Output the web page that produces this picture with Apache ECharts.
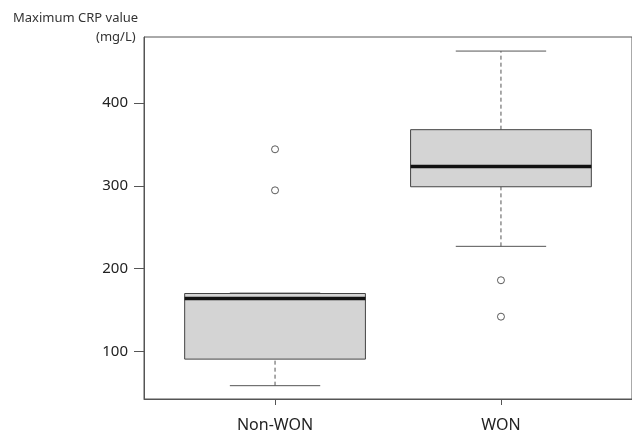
<!DOCTYPE html>
<html>
<head>
<meta charset="utf-8">
<script src="https://cdn.jsdelivr.net/npm/echarts@6/dist/echarts.min.js"></script>
<style>html,body{margin:0;padding:0;background:#fff;}#c{width:632px;height:433px;}</style>
</head>
<body>
<div id="c"></div>
<script>
var categories = ['Non-WON', 'WON'];
var positions = [1, 2];
var whiskerLow = [58.6, 227];
var q1 = [90.7, 299];
var median = [164, 323.5];
var q3 = [170, 368];
var whiskerHigh = [170.5, 463];
var outliers = [[1, 344.3], [1, 294.7], [2, 186], [2, 142]];
var yTicks = [100, 200, 300, 400];

var boxData = positions.map(function (p, i) {
  return [p, whiskerLow[i], q1[i], median[i], q3[i], whiskerHigh[i]];
});

var chart = echarts.init(document.getElementById('c'), null, {renderer: 'canvas'});
var font = 'Noto Sans';
chart.setOption({
  animation: false,
  backgroundColor: '#fff',
  title: [
    {text: 'Maximum CRP value', left: 13, top: 12, padding: 0, textStyle: {fontSize: 13, fontWeight: 'normal', color: '#333', fontFamily: font}},
    {text: '(mg/L)', left: 96, top: 31, padding: 0, textStyle: {fontSize: 13, fontWeight: 'normal', color: '#333', fontFamily: font}}
  ],
  grid: {left: 144, right: -3, top: 37, bottom: 33, show: true, borderColor: '#555', borderWidth: 1, backgroundColor: 'transparent'},
  xAxis: {
    type: 'value', min: 0.42, max: 2.58,
    axisLine: {show: true, lineStyle: {color: '#555', width: 1}},
    splitLine: {show: false},
    axisTick: {show: true, customValues: positions, length: 6, lineStyle: {color: '#555'}},
    axisLabel: {customValues: positions, margin: 18, fontSize: 16, color: '#222', fontFamily: font,
      formatter: function (v) { return categories[Math.round(v) - 1]; }}
  },
  yAxis: {
    type: 'value', min: 42.5, max: 480,
    axisLine: {show: true, lineStyle: {color: '#555', width: 1}},
    splitLine: {show: false},
    axisTick: {show: true, customValues: yTicks, length: 10, lineStyle: {color: '#555'}},
    axisLabel: {customValues: yTicks, margin: 16, fontSize: 15, color: '#222', fontFamily: font}
  },
  series: [
    {
      type: 'custom',
      data: boxData,
      encode: {x: 0, y: [1, 2, 3, 4, 5]},
      renderItem: function (params, api) {
        var x = api.value(0);
        var halfBox = api.size([0.4, 0])[0];
        var halfCap = halfBox / 2;
        var pLow = api.coord([x, api.value(1)]);
        var pQ1 = api.coord([x, api.value(2)]);
        var pMed = api.coord([x, api.value(3)]);
        var pQ3 = api.coord([x, api.value(4)]);
        var pHigh = api.coord([x, api.value(5)]);
        var cx = pMed[0];
        var dashStyle = {stroke: '#555', lineWidth: 1, lineDash: [4, 3]};
        return {
          type: 'group',
          children: [
            {type: 'line', shape: {x1: cx, y1: pLow[1], x2: cx, y2: pQ1[1]}, style: dashStyle},
            {type: 'line', shape: {x1: cx, y1: pQ3[1], x2: cx, y2: pHigh[1]}, style: dashStyle},
            {type: 'line', shape: {x1: cx - halfCap, y1: pLow[1], x2: cx + halfCap, y2: pLow[1]}, style: {stroke: '#555', lineWidth: 1}},
            {type: 'line', shape: {x1: cx - halfCap, y1: pHigh[1], x2: cx + halfCap, y2: pHigh[1]}, style: {stroke: '#555', lineWidth: 1}},
            {type: 'rect', shape: {x: cx - halfBox, y: pQ3[1], width: halfBox * 2, height: pQ1[1] - pQ3[1]},
              style: {fill: '#d4d4d4', stroke: '#444', lineWidth: 1}},
            {type: 'line', shape: {x1: cx - halfBox, y1: pMed[1], x2: cx + halfBox, y2: pMed[1]}, style: {stroke: '#111', lineWidth: 3.5}}
          ]
        };
      }
    },
    {
      type: 'scatter',
      data: outliers,
      symbol: 'circle',
      symbolSize: 7,
      itemStyle: {color: '#fff', borderColor: '#333', borderWidth: 1}
    }
  ]
});
</script>
</body>
</html>
